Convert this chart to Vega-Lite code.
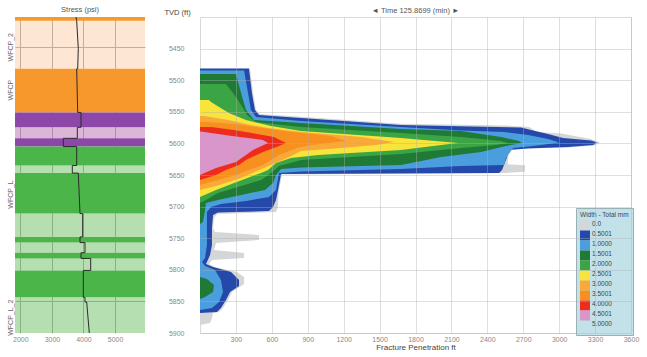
{
  "$schema": "https://vega.github.io/schema/vega-lite/v6.json",
  "padding": {"left": 5, "top": 5, "right": 5, "bottom": 3},
  "background": "white",
  "config": {
    "font": "Liberation Sans",
    "view": {"stroke": null},
    "axis": {"labelColor": "#888", "labelFontSize": 7, "titleColor": "#444", "titleFontWeight": "normal", "domain": false, "ticks": false, "labelFlush": false, "format": "d"},
    "axisY": {"labelOverlap": false},
    "title": {"fontSize": 7.5, "fontWeight": "normal", "color": "#555", "offset": 2}
  },
  "spacing": 18,
  "resolve": {"scale": {"color": "independent"}},
  "hconcat": [
    {
      "width": 130,
      "height": 316,
      "title": {"text": "Stress (psi)"},
      "layer": [
        {
          "data": {"values": [
            {"top": 5400, "base": 5406, "facies": "F1"},
            {"top": 5406, "base": 5482, "facies": "F2"},
            {"top": 5482, "base": 5551, "facies": "F1"},
            {"top": 5551, "base": 5574.5, "facies": "F3"},
            {"top": 5574.5, "base": 5592, "facies": "F4"},
            {"top": 5592, "base": 5605, "facies": "F3"},
            {"top": 5605, "base": 5635, "facies": "F5"},
            {"top": 5635, "base": 5647, "facies": "F6"},
            {"top": 5647, "base": 5711, "facies": "F5"},
            {"top": 5711, "base": 5748, "facies": "F6"},
            {"top": 5748, "base": 5757, "facies": "F5"},
            {"top": 5757, "base": 5773, "facies": "F6"},
            {"top": 5773, "base": 5782, "facies": "F5"},
            {"top": 5782, "base": 5801, "facies": "F6"},
            {"top": 5801, "base": 5843.5, "facies": "F5"},
            {"top": 5843.5, "base": 5900, "facies": "F6"}
          ]},
          "mark": {"type": "rect"},
          "encoding": {
            "y": {"field": "top", "type": "quantitative",
              "scale": {"domain": [5400, 5900], "reverse": true, "nice": false, "zero": false},
              "axis": {"title": null, "values": [5447, 5515, 5680, 5850, 5875],
                "labelExpr": "datum.value == 5447 ? 'WFCP_2' : datum.value == 5515 ? 'WFCP' : datum.value == 5680 ? 'WFCP_L' : datum.value == 5875 ? 'WFCP_L_2' : ''",
                "labelAngle": 270, "labelColor": "#666", "labelFontSize": 7, "labelPadding": 2, "labelOverlap": false,
                "grid": true, "gridColor": "#b5b5b5",
                "gridOpacity": {"condition": {"test": "datum.value == 5447 || datum.value == 5850", "value": 1}, "value": 0}}},
            "y2": {"field": "base"},
            "color": {"field": "facies", "type": "nominal",
              "scale": {"domain": ["F1", "F2", "F3", "F4", "F5", "F6"],
                "range": ["#f6982b", "rgba(245,150,70,0.24)", "#8c47a9", "rgba(170,80,160,0.42)", "#4cb54a", "rgba(70,175,60,0.4)"]},
              "legend": null}
          }
        },
        {
          "data": {"values": [
            {"i": 0, "tvd": 5400, "stress": 3763}, {"i": 1, "tvd": 5406, "stress": 3785},
            {"i": 2, "tvd": 5450, "stress": 3836}, {"i": 3, "tvd": 5482, "stress": 3817},
            {"i": 4, "tvd": 5482, "stress": 3785}, {"i": 5, "tvd": 5551, "stress": 3817},
            {"i": 6, "tvd": 5551, "stress": 3922}, {"i": 7, "tvd": 5574.5, "stress": 3922},
            {"i": 8, "tvd": 5574.5, "stress": 3805}, {"i": 9, "tvd": 5592, "stress": 3805},
            {"i": 10, "tvd": 5592, "stress": 3361}, {"i": 11, "tvd": 5605, "stress": 3361},
            {"i": 12, "tvd": 5605, "stress": 3785}, {"i": 13, "tvd": 5635, "stress": 3785},
            {"i": 14, "tvd": 5635, "stress": 3646}, {"i": 15, "tvd": 5647, "stress": 3646},
            {"i": 16, "tvd": 5647, "stress": 3836}, {"i": 17, "tvd": 5711, "stress": 3890},
            {"i": 18, "tvd": 5711, "stress": 3975}, {"i": 19, "tvd": 5748, "stress": 3975},
            {"i": 20, "tvd": 5748, "stress": 3890}, {"i": 21, "tvd": 5757, "stress": 3890},
            {"i": 22, "tvd": 5757, "stress": 4048}, {"i": 23, "tvd": 5773, "stress": 4048},
            {"i": 24, "tvd": 5773, "stress": 3922}, {"i": 25, "tvd": 5782, "stress": 3922},
            {"i": 26, "tvd": 5782, "stress": 4229}, {"i": 27, "tvd": 5801, "stress": 4229},
            {"i": 28, "tvd": 5801, "stress": 3995}, {"i": 29, "tvd": 5843.5, "stress": 3995},
            {"i": 30, "tvd": 5843.5, "stress": 4048}, {"i": 31, "tvd": 5851, "stress": 4048},
            {"i": 32, "tvd": 5851, "stress": 4102}, {"i": 33, "tvd": 5900, "stress": 4185}
          ]},
          "mark": {"type": "line", "color": "#2b2b2b", "strokeWidth": 1},
          "encoding": {
            "x": {"field": "stress", "type": "quantitative",
              "scale": {"domain": [1830, 5950], "nice": false, "zero": false},
              "axis": {"title": null, "values": [2000, 3000, 4000, 5000], "grid": true, "gridColor": "#b5b5b5", "labelPadding": 2}},
            "y": {"field": "tvd", "type": "quantitative"},
            "order": {"field": "i", "type": "quantitative"}
          }
        }
      ]
    },
    {
      "width": 431,
      "height": 316,
      "view": {"stroke": "#d9d9d9"},
      "title": {"text": "◄ Time 125.8699 (min) ►", "offset": -6},
      "data": {"values": [
        {"w": "0.0", "tvd": 5482, "pen": 418}, {"w": "0.0", "tvd": 5520, "pen": 443}, {"w": "0.0", "tvd": 5547, "pen": 468}, {"w": "0.0", "tvd": 5553.5, "pen": 501}, {"w": "0.0", "tvd": 5558, "pen": 844}, {"w": "0.0", "tvd": 5569, "pen": 1679}, {"w": "0.0", "tvd": 5571.7, "pen": 2556}, {"w": "0.0", "tvd": 5574, "pen": 2748}, {"w": "0.0", "tvd": 5582, "pen": 2815}, {"w": "0.0", "tvd": 5584.3, "pen": 3016}, {"w": "0.0", "tvd": 5593, "pen": 3266}, {"w": "0.0", "tvd": 5598.6, "pen": 3342}, {"w": "0.0", "tvd": 5603.3, "pen": 3300}, {"w": "0.0", "tvd": 5606.5, "pen": 3074}, {"w": "0.0", "tvd": 5608.1, "pen": 2600}, {"w": "0.0", "tvd": 5610.4, "pen": 2580}, {"w": "0.0", "tvd": 5633, "pen": 2570}, {"w": "0.0", "tvd": 5634.5, "pen": 2715}, {"w": "0.0", "tvd": 5645, "pen": 2715}, {"w": "0.0", "tvd": 5646.8, "pen": 2556}, {"w": "0.0", "tvd": 5649.2, "pen": 685}, {"w": "0.0", "tvd": 5673.7, "pen": 660}, {"w": "0.0", "tvd": 5689.6, "pen": 652}, {"w": "0.0", "tvd": 5700.6, "pen": 652}, {"w": "0.0", "tvd": 5708.5, "pen": 635}, {"w": "0.0", "tvd": 5711.7, "pen": 142}, {"w": "0.0", "tvd": 5718, "pen": 117}, {"w": "0.0", "tvd": 5733.8, "pen": 109}, {"w": "0.0", "tvd": 5740.2, "pen": 125}, {"w": "0.0", "tvd": 5744.9, "pen": 493}, {"w": "0.0", "tvd": 5752.8, "pen": 493}, {"w": "0.0", "tvd": 5757.6, "pen": 134}, {"w": "0.0", "tvd": 5768.7, "pen": 117}, {"w": "0.0", "tvd": 5773.4, "pen": 368}, {"w": "0.0", "tvd": 5781.3, "pen": 368}, {"w": "0.0", "tvd": 5784.5, "pen": 100}, {"w": "0.0", "tvd": 5790.8, "pen": 75}, {"w": "0.0", "tvd": 5795.6, "pen": 125}, {"w": "0.0", "tvd": 5803.5, "pen": 309}, {"w": "0.0", "tvd": 5811.4, "pen": 368}, {"w": "0.0", "tvd": 5822.5, "pen": 368}, {"w": "0.0", "tvd": 5835.1, "pen": 267}, {"w": "0.0", "tvd": 5847.8, "pen": 234}, {"w": "0.0", "tvd": 5860.5, "pen": 192}, {"w": "0.0", "tvd": 5866.8, "pen": 159}, {"w": "0.0", "tvd": 5868.4, "pen": 109}, {"w": "0.0", "tvd": 5876.3, "pen": 100}, {"w": "0.0", "tvd": 5884.2, "pen": 84}, {"w": "0.0", "tvd": 5887.3, "pen": 0},

        {"w": "0.5001", "tvd": 5481.5, "pen": 409}, {"w": "0.5001", "tvd": 5520.3, "pen": 434}, {"w": "0.5001", "tvd": 5547.2, "pen": 459}, {"w": "0.5001", "tvd": 5555.1, "pen": 493}, {"w": "0.5001", "tvd": 5559.8, "pen": 844}, {"w": "0.5001", "tvd": 5570.9, "pen": 1679}, {"w": "0.5001", "tvd": 5573.3, "pen": 2264}, {"w": "0.5001", "tvd": 5574.9, "pen": 2682}, {"w": "0.5001", "tvd": 5578.8, "pen": 2765}, {"w": "0.5001", "tvd": 5585.1, "pen": 2907}, {"w": "0.5001", "tvd": 5591.5, "pen": 3032}, {"w": "0.5001", "tvd": 5595.4, "pen": 3266}, {"w": "0.5001", "tvd": 5598.6, "pen": 3316}, {"w": "0.5001", "tvd": 5602.5, "pen": 3283}, {"w": "0.5001", "tvd": 5605.7, "pen": 3074}, {"w": "0.5001", "tvd": 5608.1, "pen": 2740}, {"w": "0.5001", "tvd": 5610.4, "pen": 2573}, {"w": "0.5001", "tvd": 5621.5, "pen": 2565}, {"w": "0.5001", "tvd": 5642.1, "pen": 2523}, {"w": "0.5001", "tvd": 5646.8, "pen": 2498}, {"w": "0.5001", "tvd": 5648.4, "pen": 677}, {"w": "0.5001", "tvd": 5673.7, "pen": 652}, {"w": "0.5001", "tvd": 5689.6, "pen": 635}, {"w": "0.5001", "tvd": 5700.6, "pen": 610}, {"w": "0.5001", "tvd": 5707, "pen": 576}, {"w": "0.5001", "tvd": 5709.3, "pen": 150}, {"w": "0.5001", "tvd": 5713.3, "pen": 109}, {"w": "0.5001", "tvd": 5733.8, "pen": 100}, {"w": "0.5001", "tvd": 5760.7, "pen": 100}, {"w": "0.5001", "tvd": 5776.6, "pen": 84}, {"w": "0.5001", "tvd": 5787.7, "pen": 58}, {"w": "0.5001", "tvd": 5790.8, "pen": 50}, {"w": "0.5001", "tvd": 5795.6, "pen": 109}, {"w": "0.5001", "tvd": 5803.5, "pen": 259}, {"w": "0.5001", "tvd": 5816.1, "pen": 326}, {"w": "0.5001", "tvd": 5825.7, "pen": 326}, {"w": "0.5001", "tvd": 5835.1, "pen": 251}, {"w": "0.5001", "tvd": 5847.8, "pen": 217}, {"w": "0.5001", "tvd": 5860.5, "pen": 175}, {"w": "0.5001", "tvd": 5866.8, "pen": 142}, {"w": "0.5001", "tvd": 5868.4, "pen": 0},

        {"w": "1.0000", "tvd": 5484.7, "pen": 368}, {"w": "1.0000", "tvd": 5520.3, "pen": 401}, {"w": "1.0000", "tvd": 5547.2, "pen": 426}, {"w": "1.0000", "tvd": 5558.2, "pen": 468}, {"w": "1.0000", "tvd": 5564.6, "pen": 844}, {"w": "1.0000", "tvd": 5574.1, "pen": 1679}, {"w": "1.0000", "tvd": 5579.6, "pen": 2180}, {"w": "1.0000", "tvd": 5582, "pen": 2540}, {"w": "1.0000", "tvd": 5586.7, "pen": 2740}, {"w": "1.0000", "tvd": 5593, "pen": 2907}, {"w": "1.0000", "tvd": 5598.6, "pen": 2999}, {"w": "1.0000", "tvd": 5602.5, "pen": 2849}, {"w": "1.0000", "tvd": 5604.9, "pen": 2740}, {"w": "1.0000", "tvd": 5607.3, "pen": 2615}, {"w": "1.0000", "tvd": 5623.1, "pen": 2556}, {"w": "1.0000", "tvd": 5634.2, "pen": 2540}, {"w": "1.0000", "tvd": 5635.8, "pen": 2180}, {"w": "1.0000", "tvd": 5640.5, "pen": 1679}, {"w": "1.0000", "tvd": 5644.5, "pen": 844}, {"w": "1.0000", "tvd": 5646.8, "pen": 660}, {"w": "1.0000", "tvd": 5673.7, "pen": 635}, {"w": "1.0000", "tvd": 5684.8, "pen": 576}, {"w": "1.0000", "tvd": 5691.1, "pen": 384}, {"w": "1.0000", "tvd": 5695.9, "pen": 175}, {"w": "1.0000", "tvd": 5700.6, "pen": 92}, {"w": "1.0000", "tvd": 5708.5, "pen": 58}, {"w": "1.0000", "tvd": 5760.7, "pen": 58}, {"w": "1.0000", "tvd": 5781.3, "pen": 42}, {"w": "1.0000", "tvd": 5787.7, "pen": 17}, {"w": "1.0000", "tvd": 5794, "pen": 42}, {"w": "1.0000", "tvd": 5800.3, "pen": 125}, {"w": "1.0000", "tvd": 5816.1, "pen": 175}, {"w": "1.0000", "tvd": 5835.1, "pen": 192}, {"w": "1.0000", "tvd": 5851, "pen": 159}, {"w": "1.0000", "tvd": 5860.5, "pen": 100}, {"w": "1.0000", "tvd": 5863.6, "pen": 0},

        {"w": "1.5001", "tvd": 5490.2, "pen": 301}, {"w": "1.5001", "tvd": 5520.3, "pen": 343}, {"w": "1.5001", "tvd": 5547.2, "pen": 384}, {"w": "1.5001", "tvd": 5563, "pen": 451}, {"w": "1.5001", "tvd": 5567.7, "pen": 844}, {"w": "1.5001", "tvd": 5577.2, "pen": 1679}, {"w": "1.5001", "tvd": 5580.4, "pen": 2180}, {"w": "1.5001", "tvd": 5589.9, "pen": 2515}, {"w": "1.5001", "tvd": 5596.2, "pen": 2665}, {"w": "1.5001", "tvd": 5599.4, "pen": 2690}, {"w": "1.5001", "tvd": 5604.1, "pen": 2556}, {"w": "1.5001", "tvd": 5613.6, "pen": 2347}, {"w": "1.5001", "tvd": 5621.5, "pen": 2013}, {"w": "1.5001", "tvd": 5634.2, "pen": 1679}, {"w": "1.5001", "tvd": 5638.1, "pen": 844}, {"w": "1.5001", "tvd": 5640.5, "pen": 677}, {"w": "1.5001", "tvd": 5650, "pen": 635}, {"w": "1.5001", "tvd": 5662.7, "pen": 610}, {"w": "1.5001", "tvd": 5673.7, "pen": 543}, {"w": "1.5001", "tvd": 5681.6, "pen": 343}, {"w": "1.5001", "tvd": 5689.6, "pen": 150}, {"w": "1.5001", "tvd": 5694.3, "pen": 50}, {"w": "1.5001", "tvd": 5705.4, "pen": 42}, {"w": "1.5001", "tvd": 5724.4, "pen": 25}, {"w": "1.5001", "tvd": 5727.5, "pen": 0}, {"w": "1.5001", "tvd": 5811.4, "pen": 0}, {"w": "1.5001", "tvd": 5814.6, "pen": 58}, {"w": "1.5001", "tvd": 5824.1, "pen": 117}, {"w": "1.5001", "tvd": 5835.1, "pen": 109}, {"w": "1.5001", "tvd": 5843, "pen": 42}, {"w": "1.5001", "tvd": 5846.2, "pen": 0},

        {"w": "2.0000", "tvd": 5506, "pen": 217}, {"w": "2.0000", "tvd": 5520.3, "pen": 276}, {"w": "2.0000", "tvd": 5539.2, "pen": 343}, {"w": "2.0000", "tvd": 5555.1, "pen": 393}, {"w": "2.0000", "tvd": 5566.1, "pen": 468}, {"w": "2.0000", "tvd": 5574.1, "pen": 844}, {"w": "2.0000", "tvd": 5583.5, "pen": 1679}, {"w": "2.0000", "tvd": 5589.9, "pen": 2180}, {"w": "2.0000", "tvd": 5596.2, "pen": 2515}, {"w": "2.0000", "tvd": 5599.4, "pen": 2573}, {"w": "2.0000", "tvd": 5602.5, "pen": 2473}, {"w": "2.0000", "tvd": 5607.3, "pen": 2180}, {"w": "2.0000", "tvd": 5616.8, "pen": 1679}, {"w": "2.0000", "tvd": 5626.3, "pen": 844}, {"w": "2.0000", "tvd": 5635.8, "pen": 660}, {"w": "2.0000", "tvd": 5646.8, "pen": 593}, {"w": "2.0000", "tvd": 5657.9, "pen": 510}, {"w": "2.0000", "tvd": 5678.5, "pen": 150}, {"w": "2.0000", "tvd": 5689.6, "pen": 50}, {"w": "2.0000", "tvd": 5694.3, "pen": 0},

        {"w": "2.5001", "tvd": 5531.3, "pen": 75}, {"w": "2.5001", "tvd": 5534.5, "pen": 92}, {"w": "2.5001", "tvd": 5542.4, "pen": 159}, {"w": "2.5001", "tvd": 5551.9, "pen": 242}, {"w": "2.5001", "tvd": 5563, "pen": 384}, {"w": "2.5001", "tvd": 5572.5, "pen": 593}, {"w": "2.5001", "tvd": 5580.4, "pen": 844}, {"w": "2.5001", "tvd": 5591.5, "pen": 1679}, {"w": "2.5001", "tvd": 5599.4, "pen": 2155}, {"w": "2.5001", "tvd": 5602.5, "pen": 2013}, {"w": "2.5001", "tvd": 5610.4, "pen": 1679}, {"w": "2.5001", "tvd": 5618.4, "pen": 986}, {"w": "2.5001", "tvd": 5623.1, "pen": 760}, {"w": "2.5001", "tvd": 5631, "pen": 635}, {"w": "2.5001", "tvd": 5642.1, "pen": 568}, {"w": "2.5001", "tvd": 5646.8, "pen": 510}, {"w": "2.5001", "tvd": 5662.7, "pen": 284}, {"w": "2.5001", "tvd": 5673.7, "pen": 134}, {"w": "2.5001", "tvd": 5684.8, "pen": 0},

        {"w": "3.0000", "tvd": 5556.6, "pen": 33}, {"w": "3.0000", "tvd": 5563, "pen": 234}, {"w": "3.0000", "tvd": 5570.9, "pen": 426}, {"w": "3.0000", "tvd": 5575.6, "pen": 568}, {"w": "3.0000", "tvd": 5582, "pen": 844}, {"w": "3.0000", "tvd": 5589.9, "pen": 1345}, {"w": "3.0000", "tvd": 5597.8, "pen": 1621}, {"w": "3.0000", "tvd": 5602.5, "pen": 1470}, {"w": "3.0000", "tvd": 5607.3, "pen": 1178}, {"w": "3.0000", "tvd": 5612, "pen": 844}, {"w": "3.0000", "tvd": 5621.5, "pen": 744}, {"w": "3.0000", "tvd": 5634.2, "pen": 593}, {"w": "3.0000", "tvd": 5654.7, "pen": 343}, {"w": "3.0000", "tvd": 5667.4, "pen": 134}, {"w": "3.0000", "tvd": 5673.7, "pen": 0},

        {"w": "3.5001", "tvd": 5566.1, "pen": 50}, {"w": "3.5001", "tvd": 5569.3, "pen": 284}, {"w": "3.5001", "tvd": 5574.1, "pen": 470}, {"w": "3.5001", "tvd": 5580.4, "pen": 700}, {"w": "3.5001", "tvd": 5588.3, "pen": 1094}, {"w": "3.5001", "tvd": 5596.2, "pen": 1220}, {"w": "3.5001", "tvd": 5602.5, "pen": 927}, {"w": "3.5001", "tvd": 5607.3, "pen": 810}, {"w": "3.5001", "tvd": 5618.4, "pen": 660}, {"w": "3.5001", "tvd": 5634.2, "pen": 526}, {"w": "3.5001", "tvd": 5650, "pen": 301}, {"w": "3.5001", "tvd": 5665.8, "pen": 0},

        {"w": "4.0000", "tvd": 5574.1, "pen": 92}, {"w": "4.0000", "tvd": 5578.8, "pen": 284}, {"w": "4.0000", "tvd": 5589.9, "pen": 618}, {"w": "4.0000", "tvd": 5599.4, "pen": 718}, {"w": "4.0000", "tvd": 5604.1, "pen": 660}, {"w": "4.0000", "tvd": 5613.6, "pen": 526}, {"w": "4.0000", "tvd": 5626.3, "pen": 384}, {"w": "4.0000", "tvd": 5634.2, "pen": 326}, {"w": "4.0000", "tvd": 5642.1, "pen": 217}, {"w": "4.0000", "tvd": 5650, "pen": 134}, {"w": "4.0000", "tvd": 5657.9, "pen": 0},

        {"w": "4.5001", "tvd": 5581.2, "pen": 8}, {"w": "4.5001", "tvd": 5588.3, "pen": 267}, {"w": "4.5001", "tvd": 5594.6, "pen": 526}, {"w": "4.5001", "tvd": 5599.4, "pen": 568}, {"w": "4.5001", "tvd": 5610.4, "pen": 443}, {"w": "4.5001", "tvd": 5629.4, "pen": 301}, {"w": "4.5001", "tvd": 5638.9, "pen": 134}, {"w": "4.5001", "tvd": 5650, "pen": 0}
      ]},
      "encoding": {
        "y": {"field": "tvd", "type": "quantitative",
          "scale": {"domain": [5400, 5900], "reverse": true, "nice": false, "zero": false},
          "axis": {"title": "TVD (ft)", "titleAngle": 0, "titleAlign": "left", "titleBaseline": "alphabetic", "titleX": -36, "titleY": -3, "titleFontSize": 7.5,
            "values": [5450, 5500, 5550, 5600, 5650, 5700, 5750, 5800, 5850, 5900], "labelPadding": 16,
            "grid": true, "gridColor": "#b0b0b0", "gridOpacity": 0.4, "zindex": 1}},
        "x": {"field": "pen", "type": "quantitative", "stack": null,
          "scale": {"domain": [0, 3600], "nice": false},
          "axis": {"title": "Fracture Penetration ft", "titleFontSize": 8, "titlePadding": 1,
            "values": [300, 600, 900, 1200, 1500, 1800, 2100, 2400, 2700, 3000, 3300, 3600], "labelPadding": 2,
            "grid": true, "gridColor": "#b0b0b0", "gridOpacity": 0.4, "zindex": 1}},
        "color": {"field": "w", "type": "nominal",
          "scale": {"domain": ["0.0", "0.5001", "1.0000", "1.5001", "2.0000", "2.5001", "3.0000", "3.5001", "4.0000", "4.5001", "5.0000"],
            "range": ["#d4d6d8", "#2449ab", "#4a9edd", "#1f7a36", "#3ba545", "#f9e43c", "#f9a83a", "#f7901f", "#ef2b1d", "#d996cb", "rgba(0,0,0,0)"]},
          "legend": {"orient": "none", "legendX": 376, "legendY": 191, "direction": "vertical",
            "title": "Width - Total mm", "titleFontSize": 6.5, "titleFontWeight": "normal", "titleColor": "#444", "titlePadding": 2,
            "labelFontSize": 6.5, "labelColor": "#444", "labelBaseline": "alphabetic", "labelOffset": 2,
            "symbolType": "square", "symbolSize": 100, "symbolStrokeWidth": 0, "symbolOpacity": 1, "rowPadding": 0,
            "padding": 4, "fillColor": "#c2e1e9", "strokeColor": "#9ab0b5"}}
      },
      "layer": [
        {"transform": [{"filter": "datum.w == '0.0'"}], "mark": {"type": "area", "orient": "horizontal"}},
        {"transform": [{"filter": "datum.w == '0.5001'"}], "mark": {"type": "area", "orient": "horizontal"}},
        {"transform": [{"filter": "datum.w == '1.0000'"}], "mark": {"type": "area", "orient": "horizontal"}},
        {"transform": [{"filter": "datum.w == '1.5001'"}], "mark": {"type": "area", "orient": "horizontal"}},
        {"transform": [{"filter": "datum.w == '2.0000'"}], "mark": {"type": "area", "orient": "horizontal"}},
        {"transform": [{"filter": "datum.w == '2.5001'"}], "mark": {"type": "area", "orient": "horizontal"}},
        {"transform": [{"filter": "datum.w == '3.0000'"}], "mark": {"type": "area", "orient": "horizontal"}},
        {"transform": [{"filter": "datum.w == '3.5001'"}], "mark": {"type": "area", "orient": "horizontal"}},
        {"transform": [{"filter": "datum.w == '4.0000'"}], "mark": {"type": "area", "orient": "horizontal"}},
        {"transform": [{"filter": "datum.w == '4.5001'"}], "mark": {"type": "area", "orient": "horizontal"}}
      ]
    }
  ]
}
